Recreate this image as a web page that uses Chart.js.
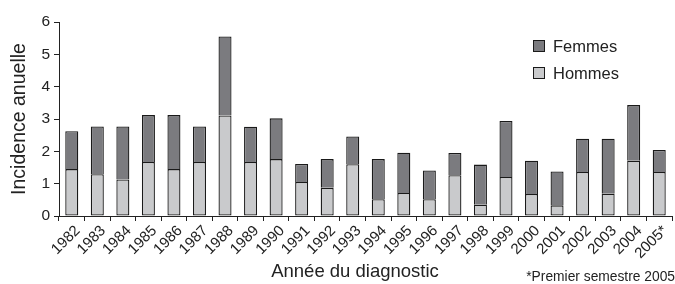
<!DOCTYPE html>
<html>
<head>
<meta charset="utf-8">
<script src="https://cdn.jsdelivr.net/npm/chart.js@4"></script>
<style>
  html, body { margin: 0; padding: 0; background: #fff; }
  #wrap { width: 675px; height: 284px; position: relative; }
</style>
</head>
<body>
<div id="wrap"><canvas id="chart"></canvas></div>
<script>
// years of diagnosis (2005 = first half only)
const years = ["1982", "1983", "1984", "1985", "1986", "1987", "1988", "1989", "1990", "1991", "1992", "1993",
  "1994", "1995", "1996", "1997", "1998", "1999", "2000", "2001", "2002", "2003", "2004", "2005*"];

const hommes = [1.45, 1.29, 1.13, 1.67, 1.45, 1.67, 3.11, 1.67, 1.76, 1.05, 0.87, 1.60,
  0.52, 0.71, 0.52, 1.26, 0.35, 1.21, 0.68, 0.33, 1.36, 0.69, 1.71, 1.36];
const femmes = [1.17, 1.48, 1.64, 1.45, 1.67, 1.10, 2.44, 1.09, 1.26, 0.56, 0.89, 0.86,
  1.24, 1.25, 0.89, 0.69, 1.24, 1.73, 1.03, 1.05, 1.03, 1.70, 1.72, 0.68];

const yTicks = [0, 1, 2, 3, 4, 5, 6];

const FONT = "'Liberation Sans', Arial, sans-serif";
const DARK = "#7b7b7f";
const LIGHT = "#c9cacc";
const EDGE = "#1a1a1a";

// legend, x title and footnote drawn by hand so they sit where the original has them
const extras = {
  id: "extras",
  afterDraw(chart) {
    const ctx = chart.ctx;
    ctx.save();
    const items = [
      { label: "Femmes", color: DARK, y: 46 },
      { label: "Hommes", color: LIGHT, y: 73 },
    ];
    items.forEach((it) => {
      ctx.fillStyle = it.color;
      ctx.fillRect(533.5, it.y - 5.5, 11, 11);
      ctx.strokeStyle = EDGE;
      ctx.lineWidth = 1;
      ctx.strokeRect(533.5, it.y - 5.5, 11, 11);
      ctx.fillStyle = "#222";
      ctx.font = "16.5px " + FONT;
      ctx.textBaseline = "middle";
      ctx.textAlign = "left";
      ctx.fillText(it.label, 553, it.y + 1);
    });
    ctx.fillStyle = "#222";
    ctx.font = "18.5px " + FONT;
    ctx.textAlign = "center";
    ctx.textBaseline = "middle";
    ctx.fillText("Année du diagnostic", 355, 272);
    ctx.font = "13.8px " + FONT;
    ctx.textAlign = "right";
    ctx.fillText("*Premier semestre 2005", 675, 277);
    ctx.restore();
  },
};

new Chart(document.getElementById("chart"), {
  type: "bar",
  data: {
    labels: years,
    datasets: [
      {
        label: "Hommes",
        data: hommes,
        backgroundColor: LIGHT,
        borderColor: EDGE,
        borderWidth: 1.3,
        borderSkipped: false,
      },
      {
        label: "Femmes",
        data: femmes,
        backgroundColor: DARK,
        borderColor: EDGE,
        borderWidth: 1.3,
        borderSkipped: "bottom", // hommes' top edge draws the join
      },
    ],
  },
  options: {
    responsive: true,
    maintainAspectRatio: false,
    animation: false,
    layout: { padding: { top: 22, right: 3, left: 0, bottom: 0 } },
    datasets: { bar: { categoryPercentage: 1, barPercentage: 0.51 } },
    plugins: { legend: { display: false }, tooltip: { enabled: false } },
    scales: {
      x: {
        stacked: true,
        grid: { offset: true, drawOnChartArea: false, tickLength: 5, color: "#222" },
        border: { color: "#222", width: 1 },
        ticks: {
          color: "#222", font: { family: FONT, size: 15 }, autoSkip: false,
          minRotation: 45, maxRotation: 45, padding: 1, labelOffset: 6,
        },
        afterFit(scale) { scale.height = 68; },
      },
      y: {
        stacked: true,
        min: 0,
        max: 6,
        afterBuildTicks(scale) { scale.ticks = yTicks.map((v) => ({ value: v })); },
        grid: { drawOnChartArea: false, tickLength: 5, color: "#222" },
        border: { color: "#222", width: 1 },
        ticks: { color: "#222", font: { family: FONT, size: 15.5 }, padding: 4 },
        title: { display: true, text: "Incidence anuelle", color: "#222", font: { family: FONT, size: 19.5 }, padding: { top: 8, bottom: 4 } },
        afterFit(scale) { scale.width = 59; },
      },
    },
  },
  plugins: [extras],
});
</script>
</body>
</html>
